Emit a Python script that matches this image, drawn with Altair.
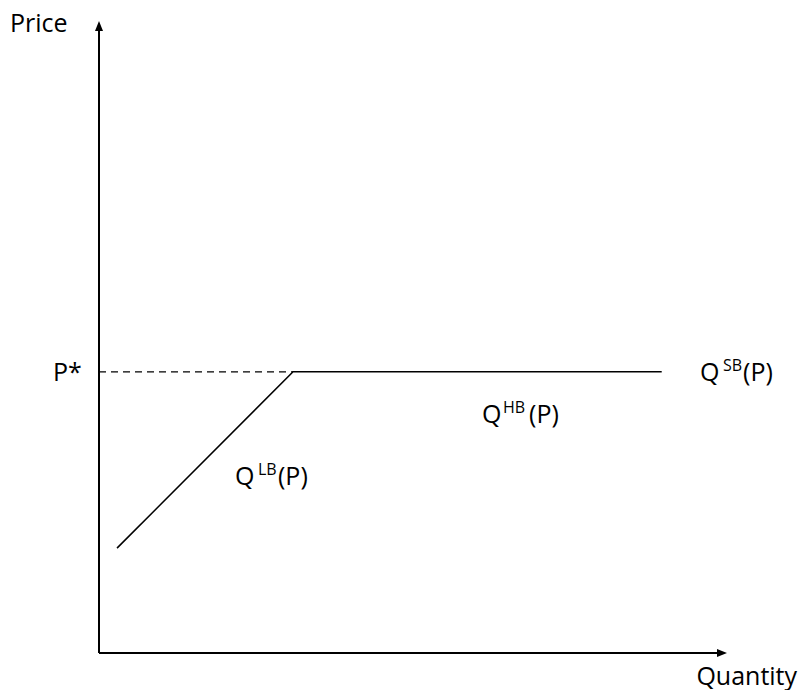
import altair as alt
import pandas as pd

# Axis frame (quantity / price units)
axis_q0, axis_q1 = 0.0, 100.0
axis_p0, axis_p1 = 0.0, 100.0
arrow_q = [99.2]          # x-axis arrowhead centre
arrow_p = [99.2]          # y-axis arrowhead centre

# Supply schedule Q(P)
curve_q = [2.87, 30.9, 89.6]
curve_p = [16.6, 44.5, 44.5]

# Reference price P*
pstar = 44.5
pstar_q = [0.0, 30.9]

# Text labels (anchor, vertical centre)
label_text = ["Price", "P*", "Quantity",
              "Q", "SB", "(P)",
              "Q", "HB", "(P)",
              "Q", "LB", "(P)"]
label_q = [-14.17, -7.32, 111.15,
           95.70, 99.36, 102.55,
           60.99, 64.33, 68.47,
           21.66, 25.32, 28.50]
label_p = [99.60, 44.30, -3.80,
           44.30, 45.41, 44.30,
           37.66, 38.77, 37.66,
           27.85, 28.96, 27.85]
label_kind = ["main", "main", "end",
              "main", "sup", "main",
              "main", "sup", "main",
              "main", "sup", "main"]

XD = [-14.49, 111.46]
YD = [-5.85, 102.06]
xs = alt.Scale(domain=XD, nice=False, zero=False)
ys = alt.Scale(domain=YD, nice=False, zero=False)

axes_df = pd.DataFrame({
    "q": [axis_q0, axis_q0], "p": [axis_p0, axis_p0],
    "q2": [axis_q0, arrow_q[0]], "p2": [arrow_p[0], axis_p0],
})
axes = alt.Chart(axes_df).mark_rule(color="black", strokeWidth=2).encode(
    x=alt.X("q:Q", scale=xs, axis=None),
    y=alt.Y("p:Q", scale=ys, axis=None),
    x2="q2:Q", y2="p2:Q",
)

up_df = pd.DataFrame({"q": [axis_q0], "p": arrow_p})
right_df = pd.DataFrame({"q": arrow_q, "p": [axis_p0]})
arrow_up = alt.Chart(up_df).mark_point(
    shape="M0,-1L0.8,1L-0.8,1Z", filled=True, opacity=1, color="black", size=100
).encode(x=alt.X("q:Q", scale=xs, axis=None), y=alt.Y("p:Q", scale=ys, axis=None))
arrow_right = alt.Chart(right_df).mark_point(
    shape="M1,0L-1,0.8L-1,-0.8Z", filled=True, opacity=1, color="black", size=100
).encode(x=alt.X("q:Q", scale=xs, axis=None), y=alt.Y("p:Q", scale=ys, axis=None))

curve_df = pd.DataFrame({"q": curve_q, "p": curve_p, "o": range(len(curve_q))})
curve = alt.Chart(curve_df).mark_line(color="black", strokeWidth=1.5).encode(
    x=alt.X("q:Q", scale=xs, axis=None),
    y=alt.Y("p:Q", scale=ys, axis=None),
    order="o:O",
)

dash_df = pd.DataFrame({"q": pstar_q, "p": [pstar, pstar]})
dash = alt.Chart(dash_df).mark_line(color="black", strokeWidth=1.3, strokeDash=[7, 5]).encode(
    x=alt.X("q:Q", scale=xs, axis=None),
    y=alt.Y("p:Q", scale=ys, axis=None),
)

lab_df = pd.DataFrame({"t": label_text, "q": label_q, "p": label_p, "k": label_kind})
enc = dict(x=alt.X("q:Q", scale=xs, axis=None), y=alt.Y("p:Q", scale=ys, axis=None), text="t:N")
main_txt = alt.Chart(lab_df).transform_filter(alt.datum.k == "main").mark_text(
    align="left", baseline="middle", font="Open Sans", fontSize=25, color="black"
).encode(**enc)
end_txt = alt.Chart(lab_df).transform_filter(alt.datum.k == "end").mark_text(
    align="right", baseline="middle", font="Open Sans", fontSize=25, color="black"
).encode(**enc)
sup_txt = alt.Chart(lab_df).transform_filter(alt.datum.k == "sup").mark_text(
    align="left", baseline="middle", font="Open Sans", fontSize=16, color="black"
).encode(**enc)

chart = alt.layer(dash, curve, axes, arrow_up, arrow_right, main_txt, end_txt, sup_txt).properties(
    width=791, height=682, padding=0, autosize=alt.AutoSizeParams(type="none"),
    background="white",
).configure_view(stroke=None)

chart.save("out.html", embed_options={"renderer": "svg", "actions": False})
